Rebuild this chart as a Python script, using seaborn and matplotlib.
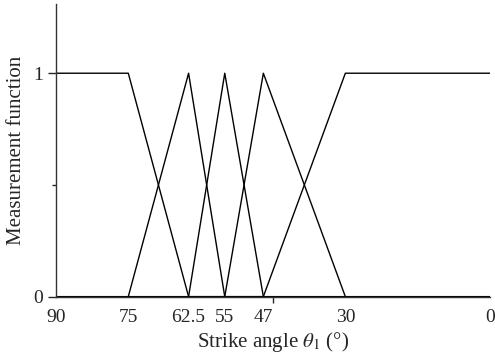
import numpy as np
import pandas as pd
import seaborn as sns
import matplotlib.pyplot as plt
from matplotlib.ticker import FixedLocator

# membership functions over strike angle
angle_1 = [90, 75, 62.5, 0]
memb_1 = [1, 1, 0, 0]
angle_2 = [75, 62.5, 55]
memb_2 = [0, 1, 0]
angle_3 = [62.5, 55, 47]
memb_3 = [0, 1, 0]
angle_4 = [55, 47, 30]
memb_4 = [0, 1, 0]
angle_5 = [90, 47, 30, 0]
memb_5 = [0, 0, 1, 1]

tick_vals = [90, 75, 62.5, 55, 47, 30, 0]
tick_labels = ["90", "75", "62.5", "55", "47", "30", "0"]

sns.set_style("ticks")
plt.rcParams["font.family"] = ["Liberation Serif", "DejaVu Serif"]
plt.rcParams["mathtext.fontset"] = "stix"

frames = []
for k, (a, m) in enumerate([(angle_1, memb_1), (angle_2, memb_2), (angle_3, memb_3),
                            (angle_4, memb_4), (angle_5, memb_5)]):
    frames.append(pd.DataFrame({"angle": a, "memb": m, "set": k}))
df = pd.concat(frames, ignore_index=True)

fig = plt.figure(figsize=(4.95, 3.6), dpi=100)
ax = fig.add_axes([0.113, 0.176, 0.877, 0.813])

sns.lineplot(data=df, x="angle", y="memb", units="set", estimator=None,
             sort=False, color="black", linewidth=1.0, ax=ax)

ax.set_xlim(90, 0)
ax.set_ylim(0, 1.31)

ax.set_xticks(tick_vals)
ax.set_xticklabels(tick_labels)
ax.tick_params(axis="x", which="major", length=0, pad=9, labelsize=14)
ax.xaxis.set_minor_locator(FixedLocator([90, 45, 0]))
ax.tick_params(axis="x", which="minor", length=4, width=1)

ax.set_yticks([0, 1])
ax.set_yticklabels(["0", "1"])
ax.yaxis.set_minor_locator(FixedLocator([0.5]))
ax.tick_params(axis="y", which="major", length=6, width=1, labelsize=14)
ax.tick_params(axis="y", which="minor", length=3, width=1)

for side in ["top", "right"]:
    ax.spines[side].set_visible(False)
for side in ["left", "bottom"]:
    ax.spines[side].set_linewidth(1.0)
    ax.spines[side].set_color("#333333")

ax.set_xlabel(r"Strike angle $\theta_1$ (°)", fontsize=15, labelpad=3)
ax.set_ylabel("Measurement function", fontsize=15, labelpad=5)

fig.savefig("out.png", dpi=100)
